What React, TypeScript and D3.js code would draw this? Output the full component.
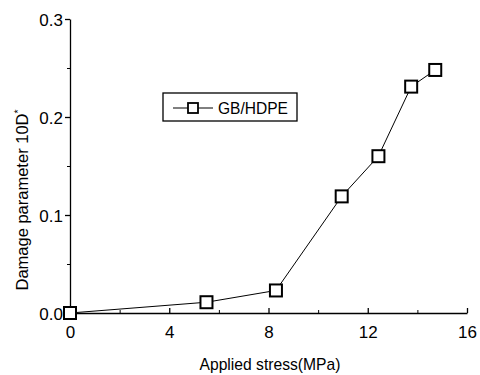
import React, { useRef, useEffect } from 'react';
import * as d3 from 'd3';

// values
const stress = [0, 5.5, 8.3, 10.95, 12.43, 13.75, 14.72];
const damage = [0, 0.011, 0.023, 0.119, 0.16, 0.231, 0.248];
const xTicks = [0, 4, 8, 12, 16];
const xMinor = [2, 6, 10, 14];
const yTicks = [0, 0.1, 0.2, 0.3];
const yMinor = [0.05, 0.15, 0.25];
const seriesName = 'GB/HDPE';

const FONT = '"Liberation Sans Narrow", "Arial Narrow", "Liberation Sans", Arial, sans-serif';

export default function App() {
  const ref = useRef<SVGSVGElement>(null);

  useEffect(() => {
    const svg = d3.select(ref.current);
    svg.selectAll('*').remove();

    const width = 480;
    const height = 375;
    const margin = { top: 19, right: 13, bottom: 62, left: 70 };
    const w = width - margin.left - margin.right;
    const h = height - margin.top - margin.bottom;

    const x = d3.scaleLinear().domain([0, 16]).range([0, w]);
    const y = d3.scaleLinear().domain([0, 0.3]).range([h, 0]);

    const g = svg.append('g')
      .attr('transform', `translate(${margin.left},${margin.top})`);

    // x axis, ticks pointing inward
    const xa = g.append('g')
      .attr('transform', `translate(0,${h})`)
      .call(d3.axisBottom(x).tickValues(xTicks).tickSizeInner(-5).tickSizeOuter(0).tickPadding(13).tickFormat(d3.format('d')));
    g.append('g')
      .attr('transform', `translate(0,${h})`)
      .call(d3.axisBottom(x).tickValues(xMinor).tickSizeInner(-3).tickSizeOuter(0).tickFormat(() => ''))
      .select('.domain').remove();

    // y axis, ticks outward
    const ya = g.append('g')
      .call(d3.axisLeft(y).tickValues(yTicks).tickSizeInner(5).tickSizeOuter(0).tickPadding(2).tickFormat(d3.format('.1f')));
    g.append('g')
      .call(d3.axisLeft(y).tickValues(yMinor).tickSizeInner(3).tickSizeOuter(0).tickFormat(() => ''))
      .select('.domain').remove();

    [xa, ya].forEach(a => {
      a.selectAll('text')
        .attr('font-family', FONT)
        .attr('font-size', 17)
        .attr('fill', '#000');
      a.selectAll('line, path').attr('stroke', '#000').attr('stroke-width', 1.3);
    });
    ya.selectAll('text').attr('dy', '0.36em');

    const pts = stress.map((s, i) => [s, damage[i]] as [number, number]);

    g.append('path')
      .datum(pts)
      .attr('fill', 'none')
      .attr('stroke', '#000')
      .attr('stroke-width', 1)
      .attr('d', d3.line<[number, number]>().x(d => x(d[0])).y(d => y(d[1])));

    const sz = 12;
    g.selectAll('rect.pt')
      .data(pts)
      .enter()
      .append('rect')
        .attr('class', 'pt')
        .attr('x', d => x(d[0]) - sz / 2)
        .attr('y', d => y(d[1]) - sz / 2)
        .attr('width', sz)
        .attr('height', sz)
        .attr('fill', '#fff')
        .attr('stroke', '#000')
        .attr('stroke-width', 2);

    // legend
    const lg = svg.append('g').attr('transform', 'translate(163,93)');
    lg.append('rect')
      .attr('width', 134).attr('height', 28)
      .attr('fill', '#fff').attr('stroke', '#000').attr('stroke-width', 1.3);
    lg.append('line')
      .attr('x1', 10).attr('x2', 50).attr('y1', 15).attr('y2', 15)
      .attr('stroke', '#000').attr('stroke-width', 1);
    lg.append('rect')
      .attr('x', 25).attr('y', 10).attr('width', 10).attr('height', 10)
      .attr('fill', '#fff').attr('stroke', '#000').attr('stroke-width', 1.8);
    lg.append('text')
      .attr('x', 55).attr('y', 21)
      .attr('font-family', FONT).attr('font-size', 17)
      .attr('textLength', 70).attr('lengthAdjust', 'spacingAndGlyphs')
      .text(seriesName);

    // axis labels
    svg.append('text')
      .attr('x', 270)
      .attr('y', 370)
      .attr('text-anchor', 'middle')
      .attr('font-family', FONT).attr('font-size', 17)
      .attr('textLength', 141).attr('lengthAdjust', 'spacingAndGlyphs')
      .text('Applied stress(MPa)');

    const yl = svg.append('text')
      .attr('transform', 'rotate(-90)')
      .attr('x', -200)
      .attr('y', 28)
      .attr('text-anchor', 'middle')
      .attr('font-family', FONT).attr('font-size', 16)
      .attr('textLength', 181).attr('lengthAdjust', 'spacingAndGlyphs');
    yl.append('tspan').text('Damage parameter 10D');
    yl.append('tspan').attr('font-size', 10).attr('dy', -6).text('*');
  }, []);

  return (
    <svg ref={ref} width={480} height={375}
      style={{ position: 'absolute', left: 0, top: 0, background: '#fff', display: 'block' }} />
  );
}
